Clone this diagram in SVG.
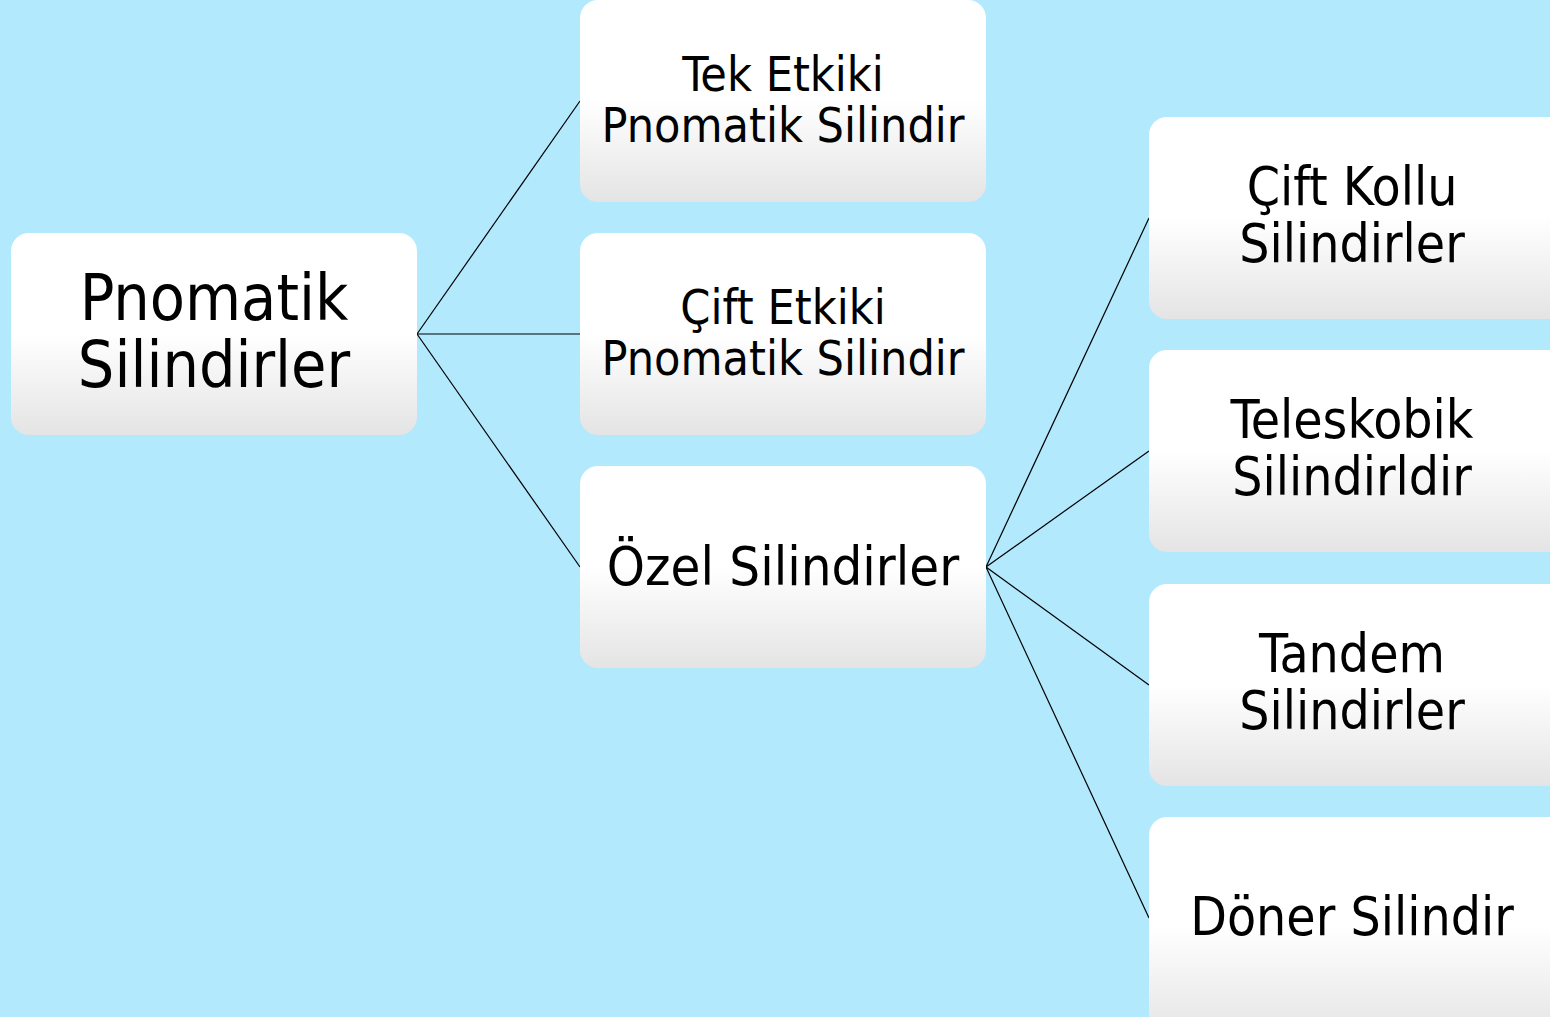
<svg xmlns="http://www.w3.org/2000/svg" width="1550" height="1017" viewBox="0 0 1550 1017">
<defs>
<linearGradient id="g" x1="0" y1="0" x2="0" y2="1">
<stop offset="0" stop-color="#ffffff"/>
<stop offset="0.5" stop-color="#ffffff"/>
<stop offset="1" stop-color="#e4e4e4"/>
</linearGradient>
</defs>
<style>
.box{fill:url(#g);}
.t{font-family:"DejaVu Sans Condensed","DejaVu Sans",sans-serif;fill:#000;text-anchor:middle;}
.c{stroke:#000;stroke-width:1.2;fill:none;}
</style>
<rect width="1550" height="1017" fill="#b2e9fd"/>
<g id="connectors">
<line class="c" x1="417" y1="334" x2="580" y2="101"/>
<line class="c" x1="417" y1="334" x2="580" y2="334"/>
<line class="c" x1="417" y1="334" x2="580" y2="567"/>
<line class="c" x1="986" y1="567" x2="1149" y2="218"/>
<line class="c" x1="986" y1="567" x2="1149" y2="451"/>
<line class="c" x1="986" y1="567" x2="1149" y2="685"/>
<line class="c" x1="986" y1="567" x2="1149" y2="918"/>
</g>
<g id="root">
<rect class="box" x="11" y="233" width="406" height="202" rx="18"/>
<text class="t" x="214" y="320" font-size="64">Pnomatik</text>
<text class="t" x="214" y="387" font-size="64">Silindirler</text>
</g>
<g id="tek">
<rect class="box" x="580" y="0" width="406" height="202" rx="18"/>
<text class="t" x="783" y="91" font-size="48">Tek Etkiki</text>
<text class="t" x="783" y="142" font-size="48">Pnomatik Silindir</text>
</g>
<g id="cift">
<rect class="box" x="580" y="233" width="406" height="202" rx="18"/>
<text class="t" x="783" y="324" font-size="48">Çift Etkiki</text>
<text class="t" x="783" y="375" font-size="48">Pnomatik Silindir</text>
</g>
<g id="ozel">
<rect class="box" x="580" y="466" width="406" height="202" rx="18"/>
<text class="t" x="783" y="585" font-size="54">Özel Silindirler</text>
</g>
<g id="kollu">
<rect class="box" x="1149" y="117" width="420" height="202" rx="18"/>
<text class="t" x="1352" y="205" font-size="53">Çift Kollu</text>
<text class="t" x="1352" y="262" font-size="53">Silindirler</text>
</g>
<g id="teleskobik">
<rect class="box" x="1149" y="350" width="420" height="202" rx="18"/>
<text class="t" x="1352" y="438" font-size="53">Teleskobik</text>
<text class="t" x="1352" y="495" font-size="53">Silindirldir</text>
</g>
<g id="tandem">
<rect class="box" x="1149" y="584" width="420" height="202" rx="18"/>
<text class="t" x="1352" y="672" font-size="53">Tandem</text>
<text class="t" x="1352" y="729" font-size="53">Silindirler</text>
</g>
<g id="doner">
<rect class="box" x="1149" y="817" width="420" height="220" rx="18"/>
<text class="t" x="1352" y="935" font-size="53">Döner Silindir</text>
</g>
</svg>
